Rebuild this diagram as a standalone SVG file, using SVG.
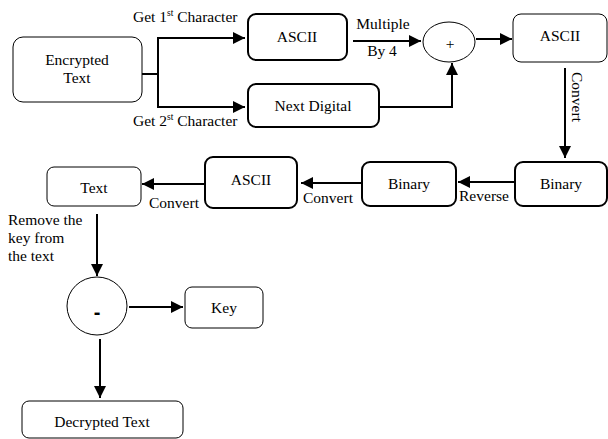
<svg xmlns="http://www.w3.org/2000/svg" width="608" height="439" viewBox="0 0 608 439">
<defs>
<marker id="ah" viewBox="0 0 10 10" refX="10" refY="5" markerWidth="6" markerHeight="6" markerUnits="strokeWidth" orient="auto">
<path d="M0,0 L10,5 L0,10 z" fill="#000"/>
</marker>
<style>
text{font-family:"Liberation Serif","Times New Roman",serif;font-size:15.5px;fill:#000}
.m{text-anchor:middle}
.b{fill:#fff;stroke:#000;stroke-width:1}
.bt{fill:#fff;stroke:#000;stroke-width:2}
.c line,.c path{fill:none;stroke:#000;stroke-width:2}
.a{marker-end:url(#ah)}
</style>
</defs>
<rect width="608" height="439" fill="#fff"/>
<g class="c" id="connectors">
<path d="M142,74 H158 V38 H245" class="a"/>
<path d="M158,74 V107 H245" class="a"/>
<line x1="353" y1="41" x2="421" y2="41" class="a"/>
<path d="M379,107 H452 V63" class="a"/>
<line x1="476" y1="39" x2="512" y2="39" class="a"/>
<line x1="565" y1="68" x2="565" y2="158" class="a"/>
<line x1="515" y1="182" x2="458" y2="182" class="a"/>
<line x1="362" y1="183" x2="301" y2="183" class="a"/>
<line x1="205" y1="184" x2="142" y2="184" class="a"/>
<line x1="97" y1="214" x2="97" y2="276" class="a"/>
<line x1="129" y1="307" x2="183" y2="307" class="a"/>
<line x1="100" y1="339" x2="100" y2="398" class="a"/>
</g>
<g id="labels">
<text x="133" y="22">Get 1<tspan font-size="9.5" dy="-6">st</tspan><tspan dy="6"> Character</tspan></text>
<text x="133" y="126">Get 2<tspan font-size="9.5" dy="-6">st</tspan><tspan dy="6"> Character</tspan></text>
<text x="383" y="29" class="m">Multiple</text>
<text x="382" y="56" class="m">By 4</text>
<text class="m" transform="translate(572,97) rotate(90)">Convert</text>
<text x="484" y="201" class="m">Reverse</text>
<text x="328" y="203" class="m">Convert</text>
<text x="174" y="208" class="m">Convert</text>
<text x="8" y="225">Remove the</text>
<text x="8" y="243">key from</text>
<text x="8" y="261">the text</text>
</g>
<g id="encrypted"><rect class="b" x="13" y="37" width="129" height="65" rx="10"/><text x="77" y="65" class="m">Encrypted</text><text x="77" y="83" class="m">Text</text></g>
<g id="ascii1"><rect class="bt" x="248" y="14" width="99" height="46" rx="8"/><text x="297" y="42" class="m">ASCII</text></g>
<g id="nextdigital"><rect class="bt" x="248" y="84" width="131" height="43" rx="8"/><text x="313" y="111" class="m">Next Digital</text></g>
<g id="plus"><ellipse class="b" cx="449" cy="42" rx="26" ry="20" stroke-width="1.5"/><text x="450" y="49" class="m">+</text></g>
<g id="ascii3"><rect class="b" x="513" y="14" width="94" height="48" rx="8"/><text x="560" y="41" class="m">ASCII</text></g>
<g id="binary2"><rect class="bt" x="515" y="162" width="92" height="44" rx="8"/><text x="561" y="189" class="m">Binary</text></g>
<g id="binary1"><rect class="bt" x="362" y="162" width="94" height="44" rx="8"/><text x="409" y="189" class="m">Binary</text></g>
<g id="ascii2"><rect class="bt" x="205" y="157" width="92" height="51" rx="8"/><text x="251" y="185" class="m">ASCII</text></g>
<g id="text"><rect class="b" x="47" y="167" width="94" height="39" rx="7"/><text x="94" y="193" class="m">Text</text></g>
<g id="minus"><ellipse class="b" cx="97" cy="306" rx="30" ry="29" stroke-width="1.5"/><text x="97" y="319" class="m" style="font-family:'Liberation Sans',Arial,sans-serif;font-weight:bold;font-size:20px">-</text></g>
<g id="key"><rect class="b" x="185" y="287" width="78" height="41" rx="7"/><text x="224" y="313" class="m">Key</text></g>
<g id="decrypted"><rect class="b" x="22" y="401" width="161" height="37" rx="7"/><text x="102" y="427" class="m">Decrypted Text</text></g>
</svg>
